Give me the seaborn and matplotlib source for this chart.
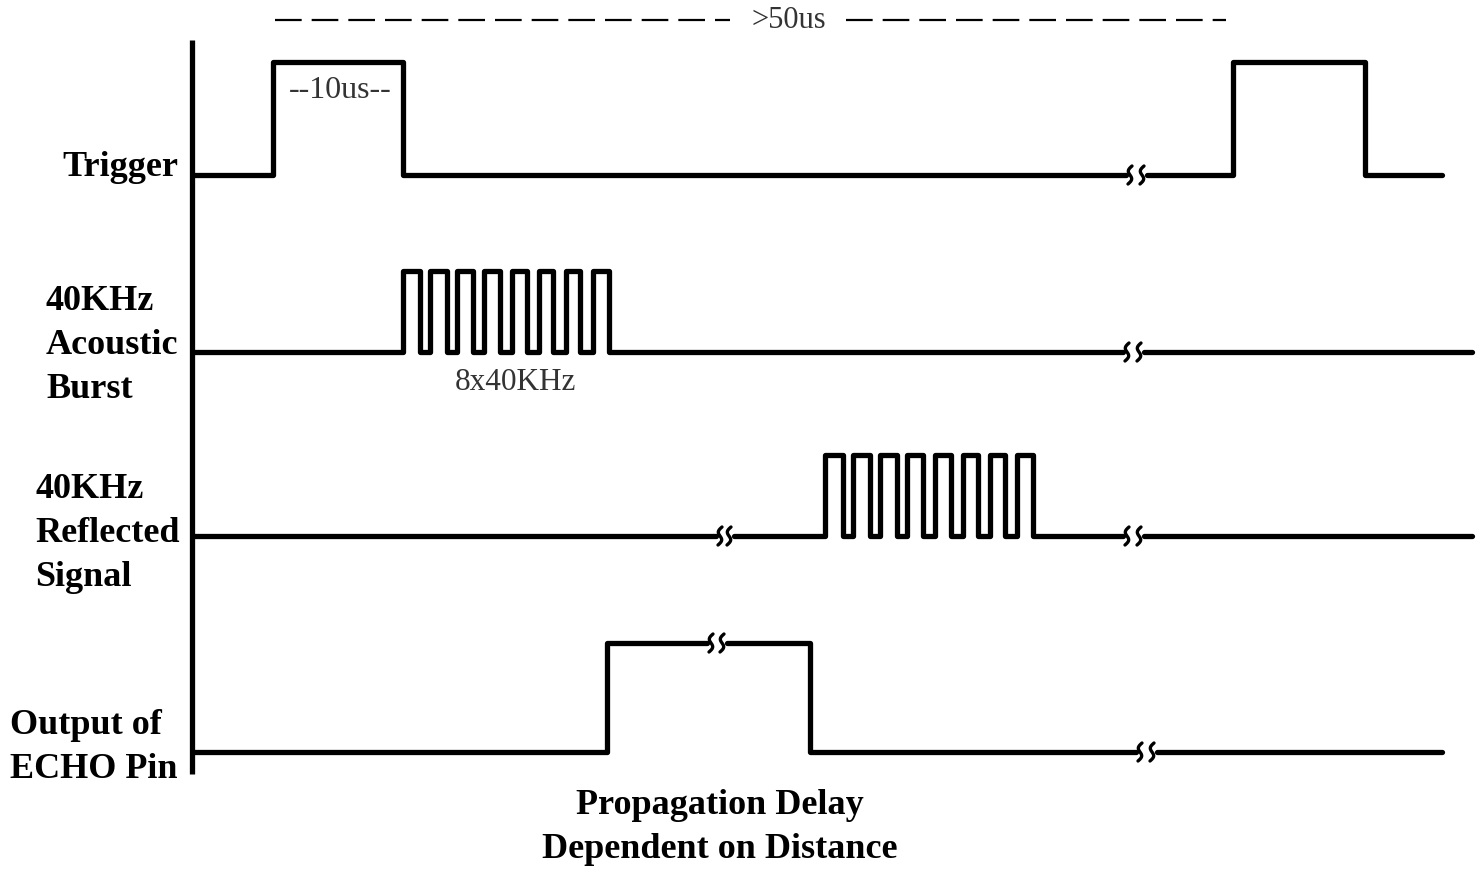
import numpy as np
import pandas as pd
import seaborn as sns
import matplotlib.pyplot as plt

sns.set_theme(style="white")
plt.rcParams['font.family'] = ['Liberation Serif', 'DejaVu Serif']
plt.rcParams['text.color'] = 'black'

## signal data (x positions of edges)
signal_names = ["Trigger", "Acoustic", "Reflected", "Echo"]
trigger_edges = [273, 403, 1233, 1365]
burst_edges = [403, 420, 430, 447, 457, 473, 484, 500, 512, 527, 539, 553, 566, 580, 593, 609]
reflected_edges = [825, 843, 853, 870, 880, 897, 907, 923, 935, 951, 963, 978, 990, 1005, 1017, 1033]
echo_edges = [607, 810]

# visible pieces of each trace (gaps = time breaks)
trigger_segments = [(193, 1126), (1147, 1442)]
burst_segments = [(193, 1123), (1144, 1472)]
reflected_segments = [(193, 716), (734, 1123), (1144, 1472)]
echo_segments = [(193, 707), (727, 1136), (1157, 1442)]

low_levels = [175, 352, 536, 752]
high_levels = [62, 271, 455, 643]

row_labels = [["Trigger"],
              ["40KHz", "Acoustic", "Burst"],
              ["40KHz", "Reflected", "Signal"],
              ["Output of", "ECHO Pin"]]
bottom_label = ["Propagation Delay", "Dependent on Distance"]


def trace(edges, segments, lo, hi, name):
    rows = []
    for k, (x0, x1) in enumerate(segments):
        inside = [e for e in edges if x0 < e < x1]
        state = sum(e <= x0 for e in edges) % 2
        xs, ys = [x0], [hi if state else lo]
        for e in inside:
            xs.append(e); ys.append(hi if state else lo)
            state = 1 - state
            xs.append(e); ys.append(hi if state else lo)
        xs.append(x1); ys.append(hi if state else lo)
        for i, (a, b) in enumerate(zip(xs, ys)):
            rows.append({"x": a, "y": b, "seg": f"{name}{k}", "order": i})
    return rows


all_edges = [trigger_edges, burst_edges, reflected_edges, echo_edges]
all_segments = [trigger_segments, burst_segments, reflected_segments, echo_segments]
rows = []
for n, e, s, lo, hi in zip(signal_names, all_edges, all_segments, low_levels, high_levels):
    rows += trace(e, s, lo, hi, n)
df = pd.DataFrame(rows)

fig = plt.figure(figsize=(14.81, 8.69), dpi=100)
ax = fig.add_axes([0, 0, 1, 1])
sns.lineplot(data=df, x="x", y="y", units="seg", estimator=None, sort=False,
             color="black", linewidth=3.8, ax=ax, legend=False)
ax.set_xlim(0, 1481)
ax.set_ylim(869, 0)
ax.axis("off")

# vertical axis line
ax.plot([192, 192], [40, 774], color="black", lw=3.8, solid_capstyle="butt")

# break marks
t = np.linspace(-1, 1, 40)
for segs, lo, hi, edges in zip(all_segments, low_levels, high_levels, all_edges):
    for (a0, a1), (b0, b1) in zip(segs[:-1], segs[1:]):
        state = sum(e <= a1 for e in edges) % 2
        yc = hi if state else lo
        for xc in (a1 + 4, b0 - 5):
            ax.plot(xc - 2.0 * t + 2.6 * np.sin(np.pi * t), yc + 9 * t,
                    color="black", lw=2.4, solid_capstyle="round")

# >50us dashed marker
ax.plot([275, 730], [20, 20], color="black", lw=1.6, dashes=(12, 4.5))
ax.plot([846, 1226], [20, 20], color="black", lw=1.6, dashes=(12, 4.5))
ax.text(789, 20, ">50us", ha="center", va="center", fontsize=22, color="#333333")
ax.text(340, 90, "--10us--", ha="center", va="center", fontsize=23, color="#333333")
ax.text(515, 383, "8x40KHz", ha="center", va="center", fontsize=22.5, color="#333333")

# row labels
lab = dict(fontsize=26, fontweight="bold", color="black", va="center")
ax.text(178, 167, row_labels[0][0], ha="right", **lab)
for line, yy in zip(row_labels[1], [302, 346, 390]):
    ax.text(46, yy, line, ha="left", **lab)
for line, yy in zip(row_labels[2], [490, 534, 578]):
    ax.text(35, yy, line, ha="left", **lab)
for line, yy in zip(row_labels[3], [725, 769]):
    ax.text(10, yy, line, ha="left", **lab)
for line, yy in zip(bottom_label, [805, 849]):
    ax.text(720, yy, line, ha="center", **lab)

fig.savefig("out.png", dpi=100, facecolor="white")
